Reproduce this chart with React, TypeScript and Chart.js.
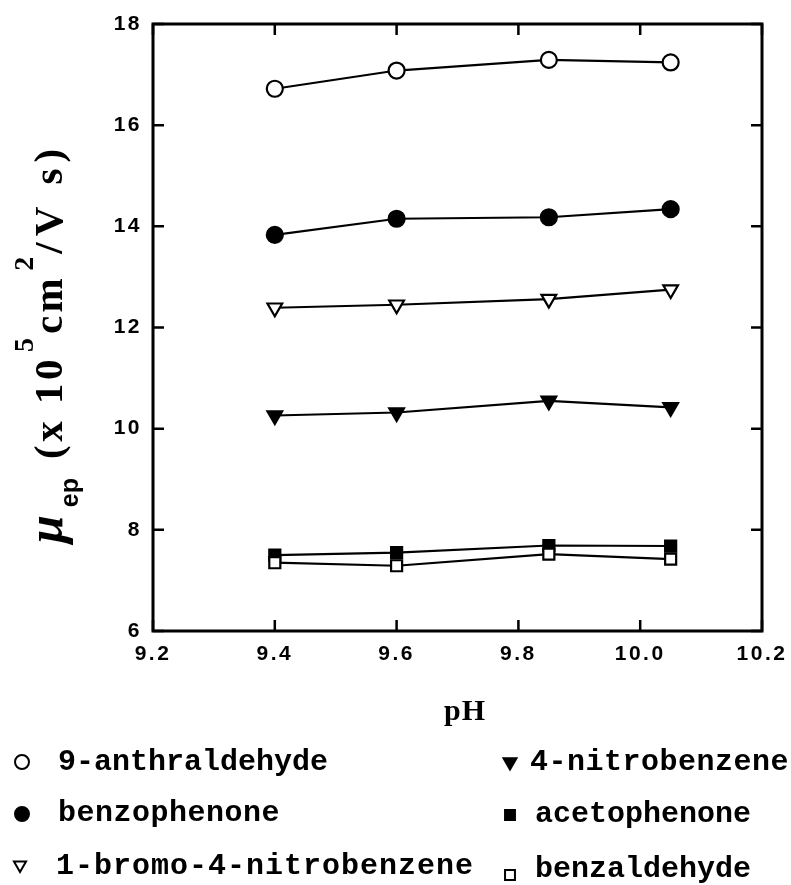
import { useEffect, useRef } from "react";
import { Chart, registerables } from "chart.js";
import { drawPoint } from "chart.js/helpers";

Chart.register(...registerables);

// pH of the running buffer
const phValues = [9.4, 9.6, 9.85, 10.05];

// electrophoretic mobility (x 10^5 cm^2 / V s) per compound
const anthraldehyde = [16.72, 17.08, 17.29, 17.24];
const benzophenone = [13.83, 14.15, 14.18, 14.34];
const bromoNitrobenzene = [12.39, 12.45, 12.56, 12.75];
const nitrobenzene = [10.26, 10.32, 10.55, 10.42];
const acetophenone = [7.5, 7.55, 7.69, 7.68];
const benzaldehyde = [7.35, 7.29, 7.52, 7.42];

const seriesNames = [
  "9-anthraldehyde",
  "benzophenone",
  "1-bromo-4-nitrobenzene",
  "4-nitrobenzene",
  "acetophenone",
  "benzaldehyde",
];
const seriesValues = [
  anthraldehyde,
  benzophenone,
  bromoNitrobenzene,
  nitrobenzene,
  acetophenone,
  benzaldehyde,
];

const xTickValues = [9.2, 9.4, 9.6, 9.8, 10.0, 10.2];
const yTickValues = [6, 8, 10, 12, 14, 16, 18];

const W = 791;
const H = 885;
const AREA = { left: 153, top: 24, right: 762, bottom: 631 };

type Marker = { pointStyle: string; rotation: number; filled: boolean; radius: number; legendRadius: number };
const markers: Marker[] = [
  { pointStyle: "circle", rotation: 0, filled: false, radius: 8, legendRadius: 7 },
  { pointStyle: "circle", rotation: 0, filled: true, radius: 8, legendRadius: 7 },
  { pointStyle: "triangle", rotation: 180, filled: false, radius: 8.5, legendRadius: 7 },
  { pointStyle: "triangle", rotation: 180, filled: true, radius: 8.5, legendRadius: 7.5 },
  { pointStyle: "rect", rotation: 0, filled: true, radius: 7.8, legendRadius: 7 },
  { pointStyle: "rect", rotation: 0, filled: false, radius: 7.8, legendRadius: 7 },
];

// legend slots: two columns, three rows
const legendSlots = [
  { mx: 22, my: 762, tx: 58, ty: 770, spacing: "0px" },
  { mx: 22, my: 814, tx: 58, ty: 821, spacing: "0.5px" },
  { mx: 20, my: 865, tx: 56, ty: 874, spacing: "1px" },
  { mx: 510, my: 762, tx: 530, ty: 770, spacing: "0.5px" },
  { mx: 510, my: 815, tx: 535, ty: 822, spacing: "0px" },
  { mx: 510, my: 875, tx: 535, ty: 877, spacing: "0px" },
];

const TICK_SPACING = "2.5px";

function drawYTitle(ctx: any) {
  ctx.save();
  ctx.translate(62, 543);
  ctx.rotate(-Math.PI / 2);
  ctx.fillStyle = "#000";
  ctx.textAlign = "left";
  ctx.textBaseline = "alphabetic";
  const main = 'bold 41px "Liberation Serif"';
  const sup = 'bold 28px "Liberation Serif"';
  let pos = 0;
  const put = (text: string, font: string, dy: number, spacing: string, gapBefore: number) => {
    pos += gapBefore;
    ctx.font = font;
    ctx.letterSpacing = spacing;
    ctx.fillText(text, pos, dy);
    pos += ctx.measureText(text).width;
  };
  put("\u03bc", 'italic bold 50px "Liberation Serif"', 0, "0px", 0);
  put("ep", 'bold 25px "Liberation Sans"', 16, "0px", 8);
  put("(x 10", main, 0, "3.5px", 19);
  put("5", sup, -29, "0px", 4);
  put("cm", main, 0, "3.5px", 4);
  put("2", sup, -29, "0px", 4);
  put("/V s)", main, 0, "6px", 3);
  ctx.restore();
}

const zeroScalePadding = (s: any) => {
  s.paddingLeft = 0;
  s.paddingRight = 0;
  s.paddingTop = 0;
  s.paddingBottom = 0;
};

const framePlugin = {
  id: "frame",
  beforeUpdate(chart: any) {
    chart.ctx.letterSpacing = TICK_SPACING;
  },
  beforeDraw(chart: any) {
    const ctx = chart.ctx;
    ctx.save();
    ctx.fillStyle = "#fff";
    ctx.fillRect(0, 0, chart.width, chart.height);
    ctx.restore();
    ctx.letterSpacing = TICK_SPACING;
  },
  afterDraw(chart: any) {
    const { ctx, chartArea: a, scales } = chart;
    const xs = scales.x;
    const ys = scales.y;
    ctx.save();
    ctx.letterSpacing = "0px";
    ctx.strokeStyle = "#000";
    ctx.lineWidth = 3;
    ctx.strokeRect(a.left, a.top, a.right - a.left, a.bottom - a.top);

    // inward tick marks on all four sides
    ctx.lineWidth = 2.5;
    ctx.beginPath();
    for (const v of xTickValues) {
      const px = xs.getPixelForValue(v);
      ctx.moveTo(px, a.bottom);
      ctx.lineTo(px, a.bottom - 11);
      ctx.moveTo(px, a.top);
      ctx.lineTo(px, a.top + 11);
    }
    for (const v of yTickValues) {
      const py = ys.getPixelForValue(v);
      ctx.moveTo(a.left, py);
      ctx.lineTo(a.left + 11, py);
      ctx.moveTo(a.right, py);
      ctx.lineTo(a.right - 11, py);
    }
    ctx.stroke();

    drawYTitle(ctx);

    // x axis title
    ctx.fillStyle = "#000";
    ctx.letterSpacing = "1px";
    ctx.font = 'bold 30px "Liberation Serif"';
    ctx.textAlign = "center";
    ctx.textBaseline = "alphabetic";
    ctx.fillText("pH", 465, 720);

    // legend
    ctx.textAlign = "left";
    ctx.font = 'bold 30px "Liberation Mono"';
    seriesNames.forEach((name, i) => {
      const s = legendSlots[i];
      const m = markers[i];
      ctx.letterSpacing = "0px";
      ctx.fillStyle = m.filled ? "#000" : "#fff";
      ctx.strokeStyle = "#000";
      ctx.lineWidth = 2;
      drawPoint(ctx, { pointStyle: m.pointStyle as any, rotation: m.rotation, radius: m.legendRadius, borderWidth: 2 }, s.mx, s.my);
      ctx.fillStyle = "#000";
      ctx.letterSpacing = s.spacing;
      ctx.fillText(name, s.tx, s.ty);
    });
    ctx.restore();
  },
};

export default function App() {
  const canvasRef = useRef<HTMLCanvasElement | null>(null);

  useEffect(() => {
    const canvas = canvasRef.current;
    if (!canvas) return;
    const tickFont = { family: '"Liberation Sans", Arial, sans-serif', size: 21, weight: "bold" as const };

    const datasets = seriesNames.map((name, i) => {
      const m = markers[i];
      return {
        label: name,
        data: phValues.map((x, j) => ({ x, y: seriesValues[i][j] })),
        borderColor: "#000",
        borderWidth: 2.2,
        tension: 0,
        fill: false,
        pointStyle: m.pointStyle as any,
        pointRotation: m.rotation,
        pointRadius: m.radius,
        pointBorderWidth: 2.2,
        pointBorderColor: "#000",
        pointBackgroundColor: m.filled ? "#000" : "#fff",
        // open squares sit above the filled ones where they overlap
        order: i === 5 ? 0 : 1,
      };
    });

    const chart = new Chart(canvas, {
      type: "line",
      data: { datasets },
      options: {
        animation: false,
        responsive: false,
        devicePixelRatio: 1,
        layout: {
          autoPadding: false,
          padding: { left: 0, top: AREA.top, right: W - AREA.right, bottom: 0 },
        },
        plugins: { legend: { display: false }, tooltip: { enabled: false } },
        scales: {
          x: {
            type: "linear",
            min: 9.2,
            max: 10.2,
            afterBuildTicks: (s: any) => {
              s.ticks = xTickValues.map((value) => ({ value }));
            },
            afterFit: (s: any) => {
              s.height = H - AREA.bottom;
              zeroScalePadding(s);
            },
            grid: { display: false, drawTicks: false },
            border: { display: false },
            ticks: {
              padding: 11,
              color: "#000",
              font: tickFont,
              maxRotation: 0,
              autoSkip: false,
              callback: (v: any) => Number(v).toFixed(1),
            },
          },
          y: {
            type: "linear",
            min: 6,
            max: 18,
            afterBuildTicks: (s: any) => {
              s.ticks = yTickValues.map((value) => ({ value }));
            },
            afterFit: (s: any) => {
              s.width = AREA.left;
              zeroScalePadding(s);
            },
            grid: { display: false, drawTicks: false },
            border: { display: false },
            ticks: {
              padding: 11,
              color: "#000",
              font: tickFont,
              autoSkip: false,
              callback: (v: any) => String(v),
            },
          },
        },
      },
      plugins: [framePlugin as any],
    });

    return () => chart.destroy();
  }, []);

  return (
    <div style={{ position: "absolute", left: 0, top: 0, width: W, height: H }}>
      <canvas ref={canvasRef} width={W} height={H} style={{ display: "block" }} />
    </div>
  );
}
